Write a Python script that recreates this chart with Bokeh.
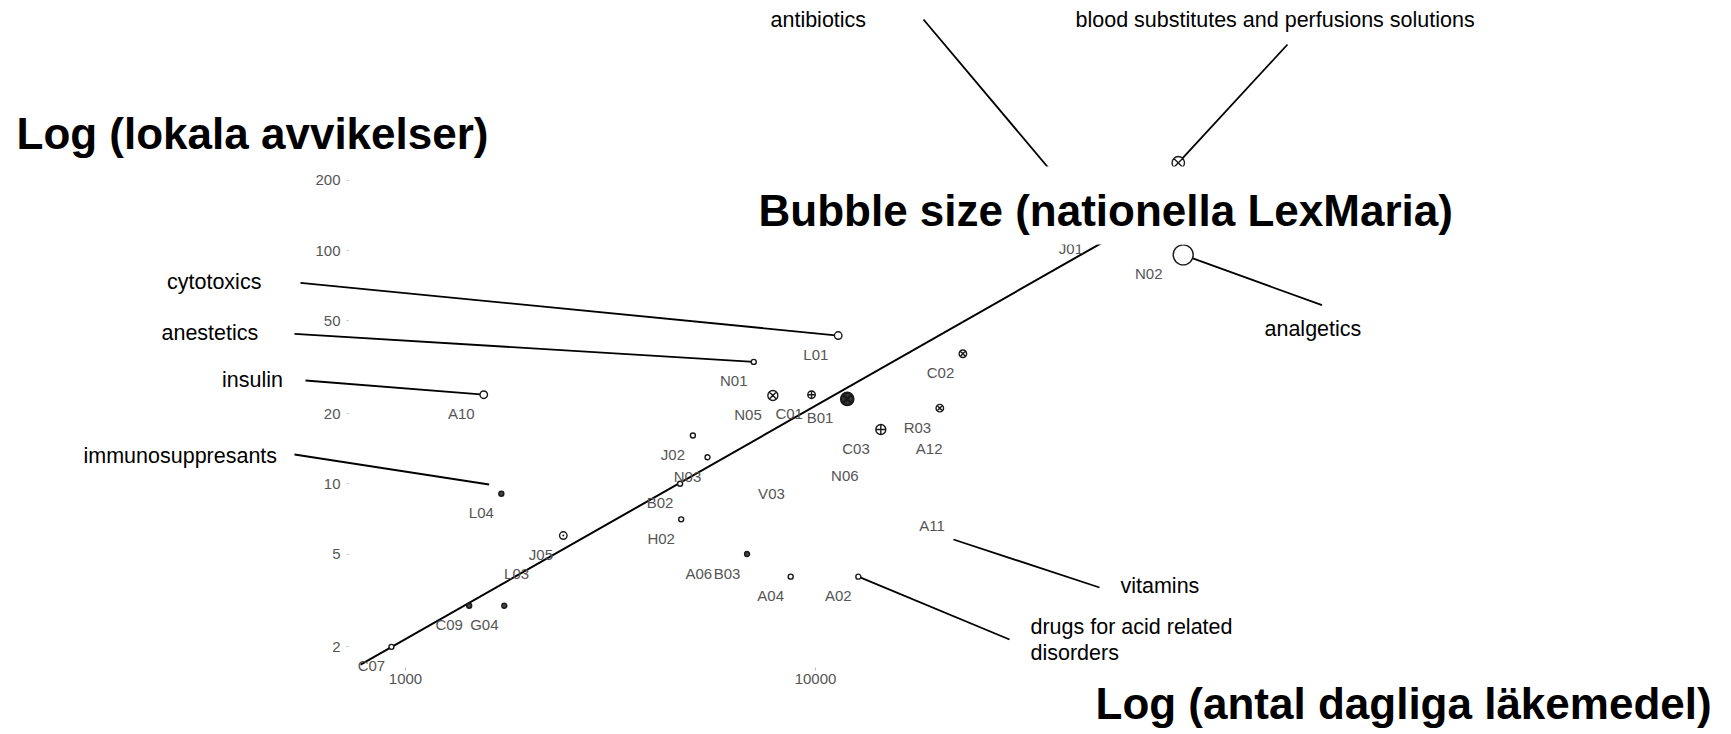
import math
from bokeh.plotting import figure
from bokeh.models import (Range1d, LogScale, LogAxis, FixedTicker, BasicTickFormatter,
                          Label, ColumnDataSource)
from bokeh.core.properties import value
from bokeh.embed import file_html
from bokeh.resources import INLINE

# ---------------- data ----------------
codes = ["C07", "C09", "G04", "L04", "A10", "J05", "L03", "J02", "N03", "B02",
         "H02", "B03", "A06", "A04", "A02", "V03", "N06", "A11", "A12", "C03",
         "R03", "C02", "B01", "C01", "N05", "N01", "L01", "N02", "B05", "J01"]
daily_drugs = [924, 1430, 1742, 1713, 1552, 2426, 2032, 5023, 5453, 4674,
               4703, 6810, 5655, 8700, 12720, 8505, 12840, 20970, 20620, 14430,
               20100, 22880, 11950, 9780, 7870, 7070, 11360, 78850, 76700, 49560]
local_events = [2.0, 3.0, 3.0, 9.06, 24.1, 6.0, 5.0, 16.1, 13.0, 10.0,
                7.04, 5.0, 5.0, 4.0, 4.0, 11.0, 13.1, 8.0, 17.1, 17.1,
                21.1, 36.1, 23.1, 24.1, 23.9, 33.3, 43.2, 95.8, 237.6, 122.7]
lexmaria = [2, 2, 2, 2, 3, 3, 0, 2, 2, 2,
            2, 2, 0, 2, 2, 0, 0, 0, 0, 4,
            3, 3, 5, 3, 4, 2, 3, 8, 5, 6]

trend_x = [777, 55000]
trend_y = [1.68, 118.8]

x_ticks = [1000, 10000]
y_ticks = [2, 5, 10, 20, 50, 100, 200]

title_y = "Log (lokala avvikelser)"
title_x = "Log (antal dagliga läkemedel)"
title_size = "Bubble size (nationella LexMaria)"

note_text = ["antibiotics", "blood substitutes and perfusions solutions", "cytotoxics",
             "anestetics", "insulin", "immunosuppresants", "analgetics", "vitamins",
             "drugs for acid related", "disorders"]

# ---------------- layout ----------------
W, H = 1720, 734
OFF = 0
X0, DX = 405.0, 410.0      # page px of x=1000, px per decade
Y10, DY = 483.3, 233.3     # page px of y=10, px per decade


def px2x(px):
    return 1000 * 10 ** ((px - X0) / DX)


def py2y(py):
    return 10 * 10 ** ((Y10 - py) / DY)


p = figure(width=W, height=H, x_axis_type=None, y_axis_type=None,
           x_range=Range1d(px2x(OFF), px2x(OFF + W)),
           y_range=Range1d(py2y(OFF + H), py2y(OFF)),
           output_backend="svg", toolbar_location=None, min_border=0,
           outline_line_color=None, background_fill_color="white",
           border_fill_color="white")
p.x_scale = LogScale()
p.y_scale = LogScale()

TICK_FONT = "Liberation Sans"
GREY = "#555555"

xa = LogAxis(fixed_location=py2y(667),
             ticker=FixedTicker(ticks=x_ticks, minor_ticks=[]),
             formatter=BasicTickFormatter(use_scientific=False),
             axis_line_color=None, major_tick_line_color="#c0c0c0",
             major_tick_in=0, major_tick_out=3, minor_tick_line_color=None,
             major_label_text_font=TICK_FONT, major_label_text_font_size="15px",
             major_label_text_color=GREY, major_label_standoff=3)
p.add_layout(xa, "below")

ya = LogAxis(fixed_location=px2x(348),
             ticker=FixedTicker(ticks=y_ticks, minor_ticks=[]),
             formatter=BasicTickFormatter(use_scientific=False),
             axis_line_color=None, major_tick_line_color="#c0c0c0",
             major_tick_in=0, major_tick_out=2, minor_tick_line_color=None,
             major_label_text_font=TICK_FONT, major_label_text_font_size="15px",
             major_label_text_color=GREY, major_label_standoff=6,
             major_label_orientation="horizontal")
p.add_layout(ya, "left")

# trend line
p.line(trend_x, trend_y, line_color="black", line_width=2)

# leader lines
idx = {c: i for i, c in enumerate(codes)}


def pt(code):
    i = idx[code]
    return daily_drugs[i], local_events[i]


leaders = [
    ((px2x(923), py2y(19)), pt("J01")),
    ((px2x(1287), py2y(44)), pt("B05")),
    ((px2x(300), py2y(282.3)), pt("L01")),
    ((px2x(294), py2y(333.3)), pt("N01")),
    ((px2x(305), py2y(380)), pt("A10")),
    ((px2x(294), py2y(454)), (px2x(488.6), py2y(484))),
    (pt("N02"), (px2x(1321.5), py2y(304.7))),
    ((px2x(953), py2y(539)), (px2x(1099), py2y(587))),
    (pt("A02"), (px2x(1009), py2y(639))),
]
p.segment(x0=[a[0] for a, b in leaders], y0=[a[1] for a, b in leaders],
          x1=[b[0] for a, b in leaders], y1=[b[1] for a, b in leaders],
          line_color="black", line_width=1.8)

# bubbles
MARKER = {"N05": "circle_x", "C01": "circle_cross", "B01": "circle_x", "C02": "circle_x",
          "R03": "circle_x", "C03": "circle_cross", "J05": "circle_dot", "B05": "circle_x"}
FILLED = {"L04": "#444444", "C09": "#444444", "G04": "#444444", "B03": "#444444",
          "B01": "#333333"}
SIZE_K = 2.5

bx, by, bs, bm, bf, blw = [], [], [], [], [], []
for c, x, y, n in zip(codes, daily_drugs, local_events, lexmaria):
    if n <= 0:
        continue
    bx.append(x)
    by.append(y)
    bs.append(SIZE_K * n)
    bm.append(MARKER.get(c, "circle"))
    bf.append(FILLED.get(c, "white"))
    blw.append(2.2 if c == "B01" else 1.4)
bsrc = ColumnDataSource(dict(x=bx, y=by, size=bs, marker=bm, fill=bf, lw=blw))
p.scatter(x="x", y="y", size="size", marker="marker", source=bsrc,
          fill_color="fill", line_color="#1a1a1a", line_width="lw")

# point labels
xoff = [-(15.2 + 1.92 * (SIZE_K * n / 2)) for n in lexmaria]
lsrc = ColumnDataSource(dict(x=daily_drugs, y=local_events, t=codes, xo=xoff))
p.text(x="x", y="y", text="t", source=lsrc, x_offset="xo", y_offset=19,
       text_align="center", text_baseline="middle",
       text_font=value(TICK_FONT), text_font_size="15px", text_color=GREY)

# white box behind the bubble-size title
p.quad(left=[px2x(752)], right=[px2x(1462)], top=[py2y(166)], bottom=[py2y(244)],
       fill_color="white", line_color=None, level="guide")


def lab(text, px, baseline, fs, bold=False):
    # place by the vertical middle of the text box
    mid = baseline - 0.35 * fs
    p.add_layout(Label(x=px - OFF, y=OFF + H - mid, x_units="screen", y_units="screen",
                       text=text, text_font="Liberation Sans", text_font_size=f"{fs}px",
                       text_font_style="bold" if bold else "normal",
                       text_color="black", text_align="left",
                       text_baseline="middle"))


lab(title_y, 16, 148, 44, True)
lab(title_size, 758, 225, 44, True)
lab(title_x, 1095, 718, 44, True)

note_pos = [(770, 27.5), (1075, 27.5), (166.5, 289), (161, 340), (221.5, 387),
            (83, 463), (1264, 336), (1120, 593), (1030, 634), (1030, 660)]
for t, (x, y) in zip(note_text, note_pos):
    lab(t, x, y, 21.5)

open("out.html", "w").write(file_html(p, INLINE))
